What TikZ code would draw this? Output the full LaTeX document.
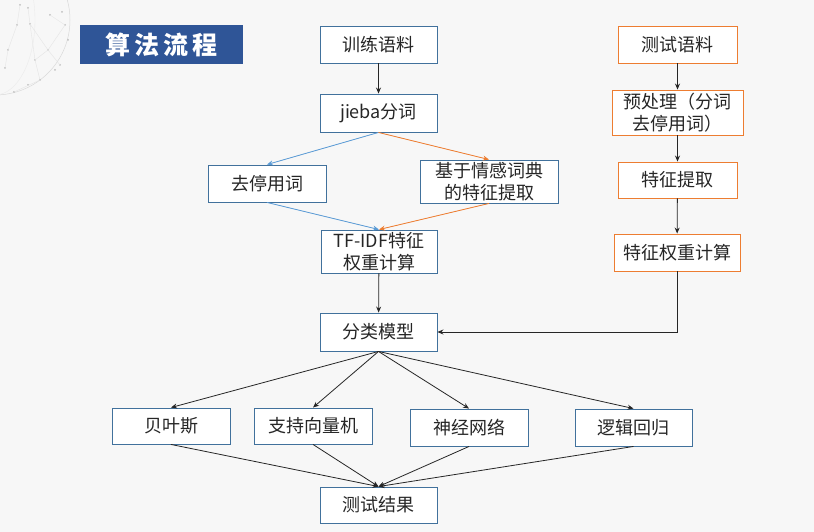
\documentclass[tikz,border=0pt]{standalone}
\usepackage{fontspec}
\setmainfont{Noto Sans CJK SC}
\usetikzlibrary{arrows.meta}
\usetikzlibrary{positioning}
\definecolor{bluebox}{HTML}{41719C}
\definecolor{orangebox}{HTML}{ED7D31}
\definecolor{bluearrow}{HTML}{5B9BD5}
\definecolor{titleblue}{HTML}{2F5597}
\definecolor{ink}{HTML}{262626}
\tikzset{flowbox/.style={draw=bluebox,fill=white,line width=0.9pt,text=ink,
             minimum width=117pt,minimum height=37pt,inner sep=0pt,align=center,
             font=\fontsize{18}{22.5}\selectfont},
         testbox/.style={flowbox,draw=orangebox},
         arr/.style={-{Stealth[length=6pt,width=5pt]},line width=0.8pt,draw=ink},
         bluearr/.style={arr,draw=bluearrow,fill=bluearrow},
         orangearr/.style={arr,draw=orangebox,fill=orangebox},
         }

\begin{document}
\begin{tikzpicture}[x=1pt,y=-1pt]
\useasboundingbox (0,0) rectangle (814,532);
\fill[black!3] (0,0) rectangle (814,532);
% faint sphere in the corner
\begin{scope}
\clip (0,0) rectangle (120,120);
\draw[black!15,line width=0.5pt] (-5,20) circle (75pt);
\draw[black!8,line width=0.4pt] (-5,20) ellipse (40pt and 75pt);
\end{scope}
\foreach \p in {(20,5),(28,8),(50,15),(62,12),(65,25),(17,25),(30,24),(8,50),(48,50),(60,65),
                (40,80),(28,85),(55,70),(5,68),(14,92),(35,60),(68,40)}
  \fill[black!25] \p circle (1pt);
\draw[black!10,line width=0.4pt] (20,5) -- (17,25) -- (8,50) -- (5,68) (28,8) -- (30,24) -- (48,50) -- (60,65)
      (50,15) -- (65,25) -- (48,50) -- (35,60) -- (40,80) -- (14,92) (30,24) -- (35,60);

\node[fill=titleblue,text=white,minimum width=163pt,minimum height=39pt,inner sep=0pt,
      font=\fontsize{25}{25}\bfseries] (title) at (161.5,44.5) {算\,法\,流\,程};

\node[flowbox] (train) at (378.5,44.5) {训练语料};
\node[flowbox,minimum height=38pt] (jieba) at (378.5,113) {jieba分词};
\node[flowbox,minimum width=118pt] (stop) at (267,183.5) {去停用词};
\node[flowbox,minimum width=138pt,minimum height=43pt] (dict) at (489,181.5) {基于情感词典\\的特征提取};
\node[flowbox,minimum width=116pt,minimum height=43pt] (tfidf) at (379,251.5) {TF-IDF特征\\权重计算};
\node[flowbox,minimum height=38pt] (model) at (378.5,332) {分类模型};

\node[testbox,minimum width=119pt] (test) at (677.5,44.5) {测试语料};
\node[testbox,minimum width=131pt,minimum height=45pt] (pre) at (677.5,112.5) {预处理（分词\\去停用词）};
\node[testbox,minimum width=119pt,minimum height=36pt] (feat) at (677.5,180) {特征提取};
\node[testbox,minimum width=126pt] (weight) at (677,252.5) {特征权重计算};

\node[flowbox,minimum width=118pt,minimum height=36pt] (bayes) at (171,426) {贝叶斯};
\node[flowbox,minimum width=118pt,minimum height=36pt] (svm) at (313,426) {支持向量机};
\node[flowbox,minimum width=118pt] (nn) at (469,427.5) {神经网络};
\node[flowbox] (lr) at (633.5,427.5) {逻辑回归};
\node[flowbox,minimum height=36pt] (result) at (378.5,505) {测试结果};

\draw[arr] (train) -- (jieba);
\draw[bluearr] (jieba.south) -- (stop.north);
\draw[orangearr] (jieba.south) -- (dict.north);
\draw[bluearr] (stop.south) -- (tfidf.north);
\draw[orangearr] (dict.south) -- (tfidf.north);
\draw[arr] (tfidf) -- (model);

\draw[arr] (test) -- (pre);
\draw[arr] (pre) -- (feat);
\draw[arr] (feat) -- (weight);
\draw[arr] (weight.south) |- (model.east);

\foreach \m in {bayes,svm,nn,lr}
  \draw[arr] (model.south) -- (\m.north);
\foreach \m in {bayes,svm,nn,lr}
  \draw[arr] (\m.south) -- (result.north);
\end{tikzpicture}
\end{document}
